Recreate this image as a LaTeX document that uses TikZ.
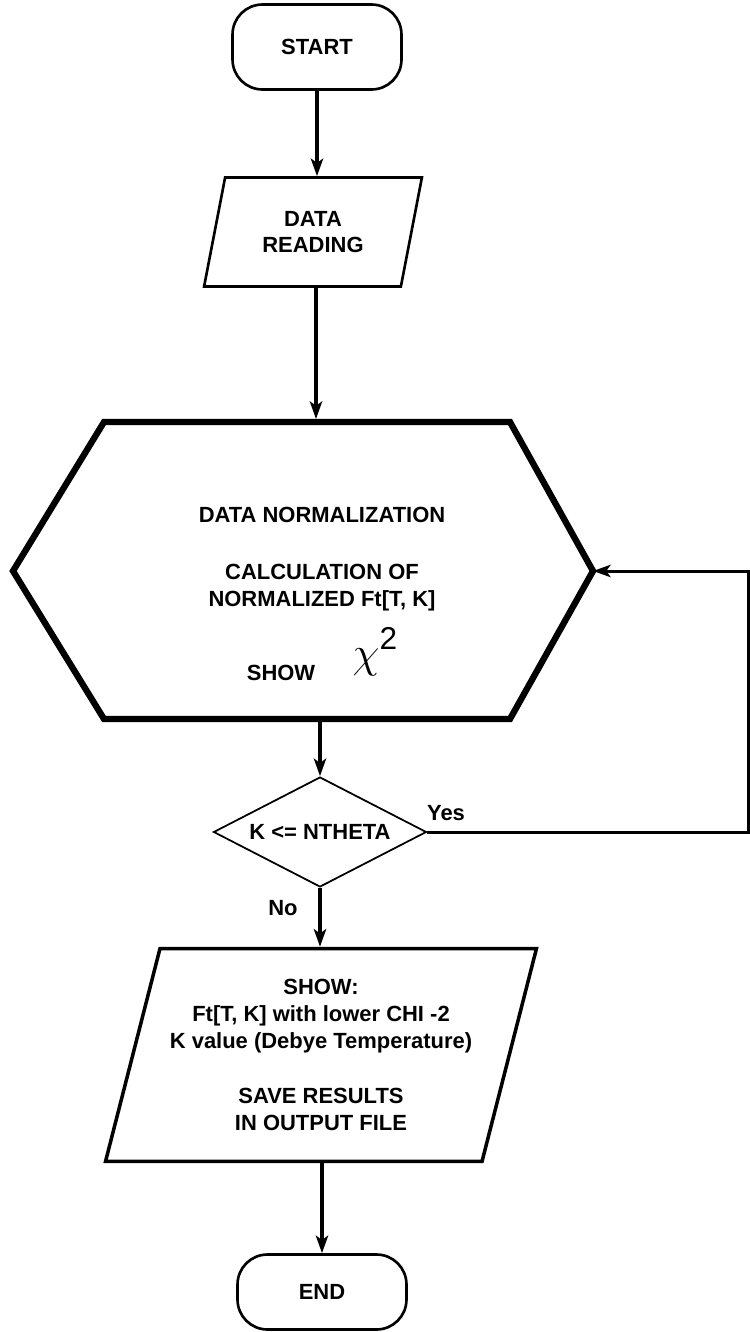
\documentclass[tikz,border=0pt]{standalone}
\usepackage{fontspec}
\setmainfont{Liberation Sans}
\usetikzlibrary{shapes.geometric,arrows.meta}

\begin{document}
\begin{tikzpicture}[x=0.02cm, y=-0.02cm,
	every node/.style={font=\fontsize{12.5}{15.3}\selectfont\bfseries, align=center, inner sep=0pt},
	terminal/.style={draw, rounded corners=0.6cm, line width=1.5pt, minimum width=3.38cm},
	iobox/.style={draw, trapezium, trapezium stretches=true, trapezium left angle=#1, trapezium right angle=180-#1},
	decision/.style={draw, diamond, aspect=2, line width=1pt, minimum width=4.26cm, minimum height=2.2cm},
	arrow/.style={-{Stealth[length=10pt,width=7pt,inset=2.5pt]}, line width=2pt}]
			\useasboundingbox (0,0) rectangle (750,1332);
			\node[terminal, minimum height=1.7cm] (start) at (317,47) {START};
			\node[iobox=74, line width=1.5pt, minimum width=4.36cm, minimum height=2.18cm] (read) at (313,232) {DATA\\READING};
			% hexagon
			\coordinate (normW) at (13,571);
			\coordinate (normE) at (593,571);
			\coordinate (normN) at (316,419);
			\coordinate (normS) at (320,721);
			\draw[line width=3.6pt] (104,422) -- (510,422) -- (normE) -- (510,719) -- (104,719) -- (normW) -- cycle;
			\node (norm) at (322,594) {DATA NORMALIZATION\\[0.6cm]
				CALCULATION OF\\ NORMALIZED Ft[T, K]\\[0.96cm]
				SHOW\hspace{0.75cm}\smash{\raisebox{0.26cm}{\fontsize{23}{23}\selectfont$\chi$}\raisebox{0.62cm}{\fontsize{18}{18}\selectfont\mdseries 2}}};
			\node[decision] (test) at (320,832) {K <= NTHETA};
			\node (yes) at (446,813) {Yes};
			\node (no) at (283,908) {No};
			\node[iobox=71.3, line width=2pt, minimum width=8.64cm, minimum height=4.26cm] (show) at (321,1055) {SHOW:\\ Ft[T, K] with lower CHI -2\\ K value (Debye Temperature)\\[0.56cm]
				SAVE RESULTS\\ IN OUTPUT FILE};
			\node[terminal, minimum height=1.5cm] (end) at (322,1292) {END};
			\coordinate (loop) at (748,832);
			\draw[arrow] (start) -- (start |- read.north);
			\draw[arrow] (read.south -| normN) -- (normN);
			\draw[arrow] (normS) -- (test.north);
			\draw[arrow] (test.south) -- (test.south |- show.north);
			\draw[arrow] (show.south -| end) -- (end.north);
			\draw[arrow, line width=1.7pt] (test.east) -- (loop) |- (normE);
			\end{tikzpicture}
\end{document}
